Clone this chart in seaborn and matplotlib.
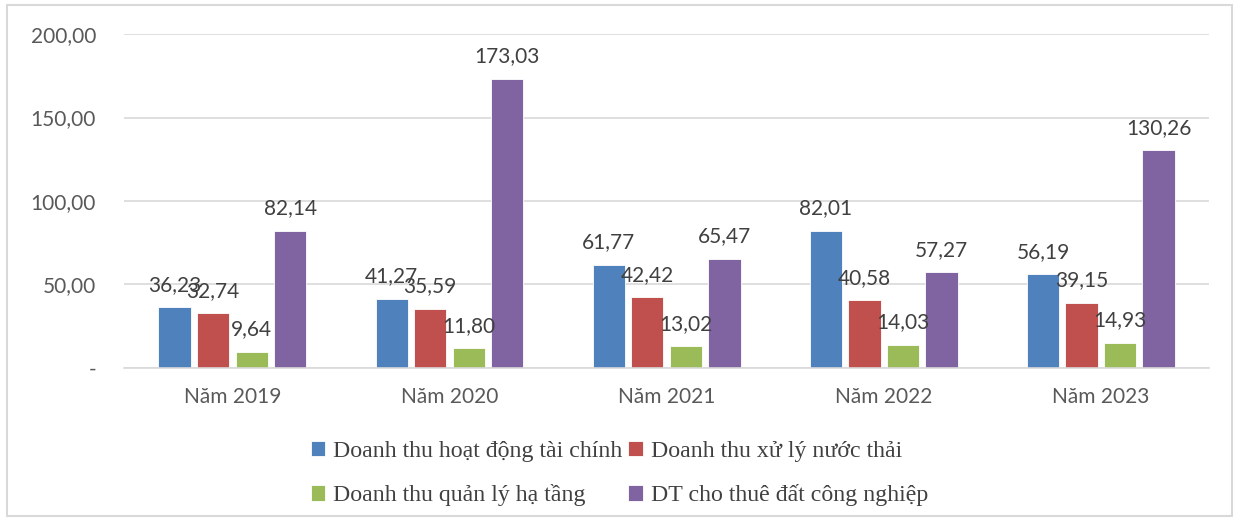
import matplotlib
matplotlib.use("Agg")
import matplotlib.pyplot as plt
import seaborn as sns
import pandas as pd
from matplotlib.patches import Rectangle

years = ["Năm 2019", "Năm 2020", "Năm 2021", "Năm 2022", "Năm 2023"]
series_names = [
    "Doanh thu hoạt động tài chính",
    "Doanh thu xử lý nước thải",
    "Doanh thu quản lý hạ tầng",
    "DT cho thuê đất công nghiệp",
]
tai_chinh = [36.23, 41.27, 61.77, 82.01, 56.19]
nuoc_thai = [32.74, 35.59, 42.42, 40.58, 39.15]
ha_tang = [9.64, 11.80, 13.02, 14.03, 14.93]
thue_dat = [82.14, 173.03, 65.47, 57.27, 130.26]
yticks = [0, 50, 100, 150, 200]
colors = ["#4F81BD", "#C0504D", "#9BBB59", "#8064A2"]

values = [tai_chinh, nuoc_thai, ha_tang, thue_dat]
rows = []
for name, vals in zip(series_names, values):
    for y, v in zip(years, vals):
        rows.append({"Năm": y, "Loại": name, "Giá trị": v})
df = pd.DataFrame(rows)

sns.set_theme(style="white")
plt.rcParams["font.family"] = ["Lato", "DejaVu Sans"]

fig = plt.figure(figsize=(12.39, 5.21), dpi=100)
ax = fig.add_axes([0.1, 0.2937, 0.876, 0.641])

sns.barplot(data=df, x="Năm", y="Giá trị", hue="Loại", hue_order=series_names,
            order=years, palette=colors, width=0.71, gap=0.16, saturation=1,
            edgecolor="white", linewidth=0.6, ax=ax, legend=True, errorbar=None)

def fmt(v):
    return f"{v:.2f}".replace(".", ",")

for cont, vals in zip(ax.containers, values):
    ax.bar_label(cont, labels=[fmt(v) for v in vals], padding=9,
                 fontsize=15, color="#404040")

ax.set_ylim(0, 200)
ax.set_yticks(yticks)
ax.set_yticklabels(["-" if t == 0 else fmt(t) for t in yticks])
ax.set_xlim(-0.5, 4.5)
ax.set_xlabel("")
ax.set_ylabel("")
ax.yaxis.grid(True, color="#D9D9D9", linewidth=1.2)
ax.set_axisbelow(True)
for s in ["top", "right", "left"]:
    ax.spines[s].set_visible(False)
ax.spines["bottom"].set_color("#D9D9D9")
ax.spines["bottom"].set_linewidth(1.2)
ax.tick_params(axis="both", length=0, labelsize=15, labelcolor="#595959")
ax.tick_params(axis="x", pad=14)
ax.tick_params(axis="y", pad=20)

handles, labels = ax.get_legend_handles_labels()
ax.legend_.remove()
order = [0, 2, 1, 3]
fig.legend([handles[i] for i in order], [labels[i] for i in order],
           loc="center", bbox_to_anchor=(0.5, 0.091), ncol=2,
           frameon=False, prop={"family": "Liberation Serif", "size": 17.2},
           handlelength=0.6, handleheight=0.6, handletextpad=0.35,
           columnspacing=0.25, labelspacing=0.95, labelcolor="#404040")

fig.patches.append(Rectangle((7 / 1239, 5 / 521), 1225 / 1239, 511 / 521,
                             transform=fig.transFigure, fill=False,
                             edgecolor="#D9D9D9", linewidth=1.5))

fig.savefig("out.png", dpi=100)
